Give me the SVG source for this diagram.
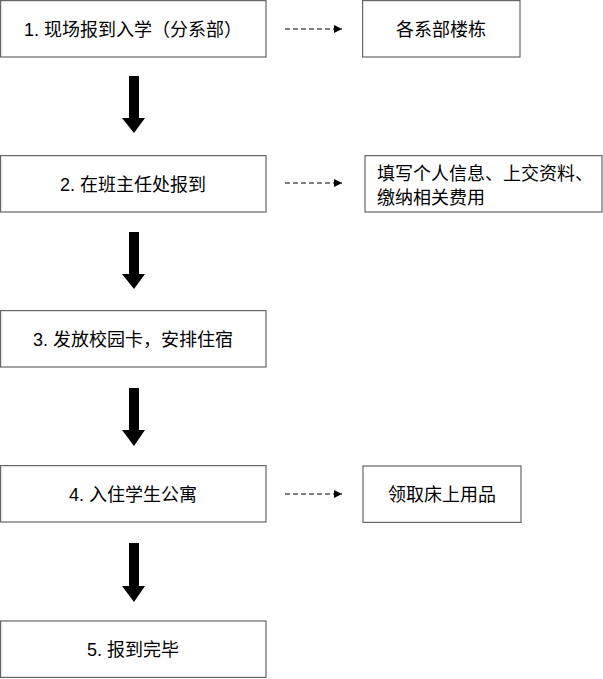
<svg xmlns="http://www.w3.org/2000/svg" width="603" height="679" viewBox="0 0 603 679">
<style>
.box{fill:#fff;stroke:#666;stroke-width:1.2}
.t{font-family:"Liberation Sans","Noto Sans CJK SC",sans-serif;font-size:18px;fill:#000}
.c{text-anchor:middle}
.dash{stroke:#000;stroke-width:1.2;stroke-dasharray:5,3;fill:none}
.big{fill:#000}
</style>
<defs>
<marker id="ah" viewBox="0 0 10 10" refX="10" refY="5" markerWidth="8" markerHeight="8" markerUnits="userSpaceOnUse" orient="auto">
<path d="M0,0 L10,5 L0,10 z" fill="#000"/>
</marker>
</defs>
<rect width="603" height="679" fill="#fff"/>
<g id="n1"><rect class="box" x="0.6" y="0.6" width="265.4" height="56.4"/><text class="t c" x="133" y="36">1. 现场报到入学（分系部）</text></g>
<g id="n2"><rect class="box" x="0.6" y="155.6" width="265.4" height="56.4"/><text class="t c" x="133" y="191">2. 在班主任处报到</text></g>
<g id="n3"><rect class="box" x="0.6" y="310.6" width="265.4" height="56.4"/><text class="t c" x="133" y="346">3. 发放校园卡，安排住宿</text></g>
<g id="n4"><rect class="box" x="0.6" y="465.6" width="265.4" height="56.4"/><text class="t c" x="133" y="501">4. 入住学生公寓</text></g>
<g id="n5"><rect class="box" x="0.6" y="621" width="265.4" height="56.4"/><text class="t c" x="133" y="656">5. 报到完毕</text></g>
<g id="r1"><rect class="box" x="362.6" y="0.6" width="157.4" height="56.4"/><text class="t c" x="441" y="36">各系部楼栋</text></g>
<g id="r2"><rect class="box" x="365" y="155.6" width="237" height="56.4"/><text class="t" x="377" y="180">填写个人信息、上交资料、</text><text class="t" x="377" y="204">缴纳相关费用</text></g>
<g id="r4"><rect class="box" x="363" y="466" width="158" height="56.4"/><text class="t c" x="442" y="501">领取床上用品</text></g>
<g id="connectors">
<path class="big" d="M129,76 H139 V118 H145 L134,133 L122,118 H129 Z"/>
<path class="big" d="M129,232 H139 V274 H145 L134,289 L122,274 H129 Z"/>
<path class="big" d="M129,388 H139 V430 H145 L134,446 L122,430 H129 Z"/>
<path class="big" d="M129,543 H139 V586 H145 L134,602 L122,586 H129 Z"/>
<line class="dash" x1="285" y1="29" x2="342" y2="29" marker-end="url(#ah)"/>
<line class="dash" x1="285" y1="183" x2="342" y2="183" marker-end="url(#ah)"/>
<line class="dash" x1="285" y1="494" x2="342" y2="494" marker-end="url(#ah)"/>
</g>
</svg>
